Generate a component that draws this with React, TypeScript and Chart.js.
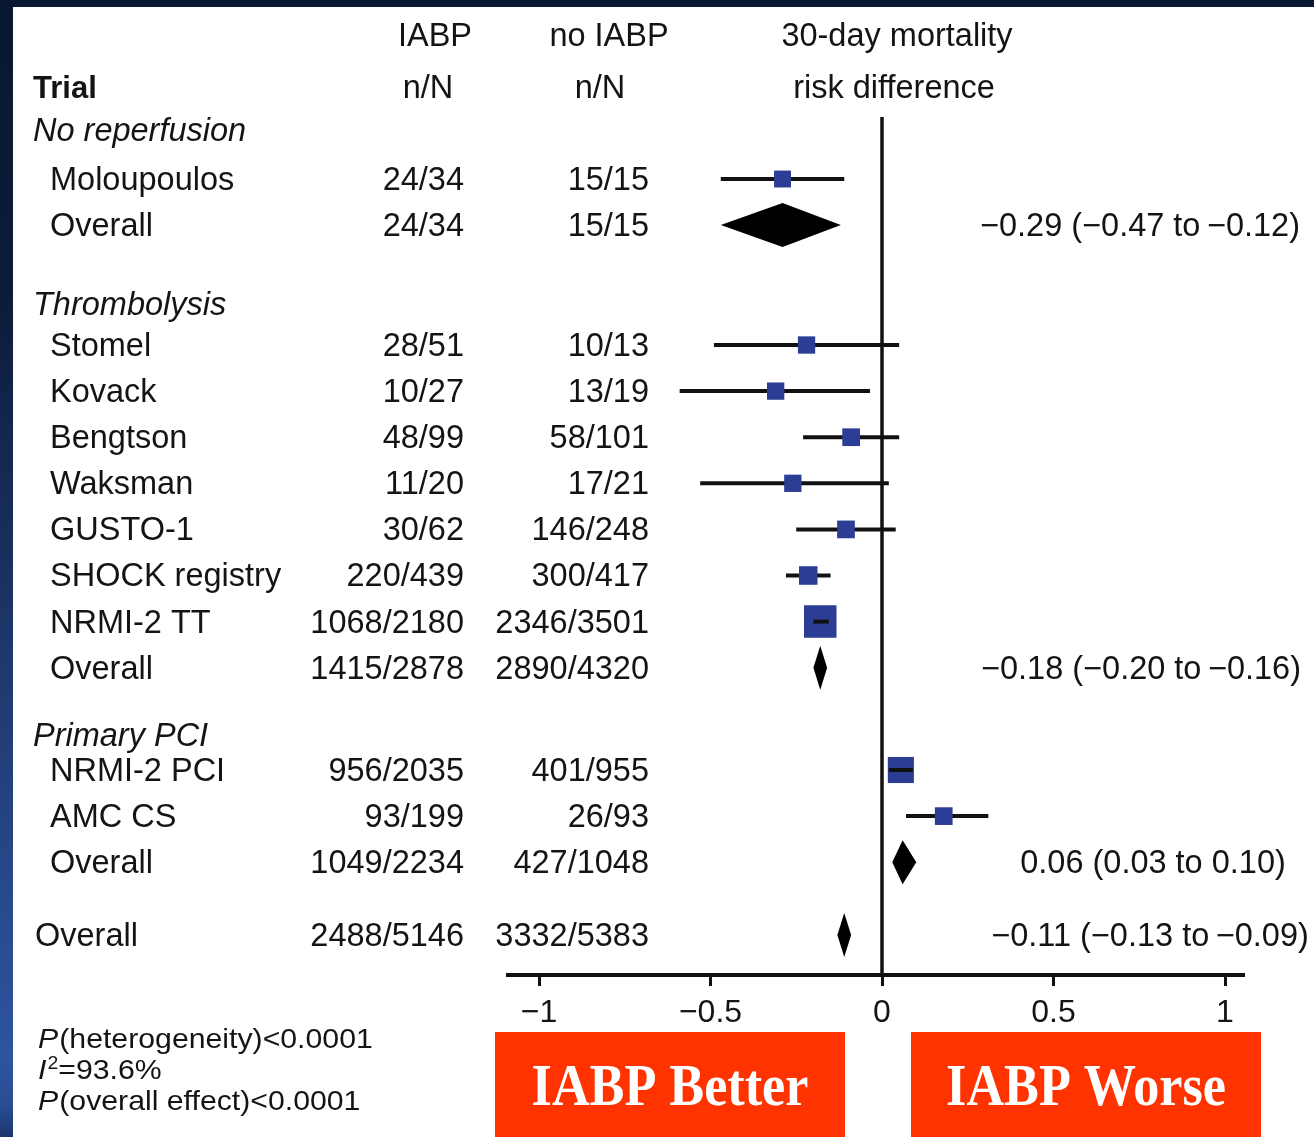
import React, { useEffect, useRef } from 'react';
import { Chart, registerables } from 'chart.js';

Chart.register(...registerables);

// ---------------- data ----------------
const groupNames = ['No reperfusion', 'Thrombolysis', 'Primary PCI'];
const trialNames = ['Moloupoulos', 'Stomel', 'Kovack', 'Bengtson', 'Waksman', 'GUSTO-1', 'SHOCK registry', 'NRMI-2 TT', 'NRMI-2 PCI', 'AMC CS'];
const trialGroup = [0, 1, 1, 1, 1, 1, 1, 1, 2, 2];
const trialIabp = ['24/34', '28/51', '10/27', '48/99', '11/20', '30/62', '220/439', '1068/2180', '956/2035', '93/199'];
const trialNoIabp = ['15/15', '10/13', '13/19', '58/101', '17/21', '146/248', '300/417', '2346/3501', '401/955', '26/93'];
const trialRD = [-0.29, -0.22, -0.31, -0.09, -0.26, -0.105, -0.215, -0.18, 0.055, 0.18];
const trialLow = [-0.47, -0.49, -0.59, -0.23, -0.53, -0.25, -0.28, -0.2, 0.02, 0.07];
const trialHigh = [-0.11, 0.05, -0.035, 0.05, 0.02, 0.04, -0.15, -0.155, 0.09, 0.31];
const trialWeight = [1, 2, 2, 3, 2, 3, 5, 40, 24, 3];

const groupIabp = ['24/34', '1415/2878', '1049/2234'];
const groupNoIabp = ['15/15', '2890/4320', '427/1048'];
const groupRD = [-0.29, -0.18, 0.06];
const groupLow = [-0.47, -0.2, 0.03];
const groupHigh = [-0.12, -0.16, 0.1];

const totalLabel = 'Overall';
const totalIabp = '2488/5146';
const totalNoIabp = '3332/5383';
const totalRD = -0.11;
const totalLow = -0.13;
const totalHigh = -0.09;

const xTicks = [-1, -0.5, 0, 0.5, 1];
const pHeterogeneity = '(heterogeneity)<0.0001';
const iSquared = '=93.6%';
const pOverall = '(overall effect)<0.0001';
const betterLabel = 'IABP Better';
const worseLabel = 'IABP Worse';

// ---------------- layout (row slots, in row units) ----------------
const HEADER_GAPS = [1.063, 0.89, 0.759];
const GROUP_GAPS = [1.711, 1.46];
const TOTAL_GAP = 1.579;
const headerPos: number[] = [];
const trialPos: number[] = [];
const groupPos: number[] = [];
let cur = 0;
groupNames.forEach((_, gi) => {
  headerPos[gi] = cur;
  cur += HEADER_GAPS[gi];
  trialNames.forEach((_, ti) => {
    if (trialGroup[ti] === gi) {
      trialPos[ti] = cur;
      cur += 1;
    }
  });
  groupPos[gi] = cur;
  if (gi < groupNames.length - 1) cur += GROUP_GAPS[gi];
});
const totalPos = cur + TOTAL_GAP;

const W = 1314;
const H = 1137;
const AREA_L = 508, AREA_R = 1243, AREA_T = 117, AREA_B = 975;
const ZERO_PX = 882, UNIT_PX = 343;
const ROW0_PX = 130, ROW_PX = 46.1;
const xMin = (AREA_L - ZERO_PX) / UNIT_PX;
const xMax = (AREA_R - ZERO_PX) / UNIT_PX;
const yMin = (AREA_T - ROW0_PX) / ROW_PX;
const yMax = (AREA_B - ROW0_PX) / ROW_PX;

const FONT = '"Liberation Sans", Arial, Helvetica, sans-serif';
const TEXT = '#141414';
const SQUARE = '#2b3d95';
const LINE = '#111111';
const TEXT_DY = 2;

const squareSide = (w: number) => 16.5 + 0.4 * w;

const fmt = (v: number) => (v < 0 ? '\u2212' : '') + Math.abs(v).toFixed(2);
const fmtTick = (v: number) => (v < 0 ? '\u2212' : '') + String(Math.abs(v));
const ciText = (e: number, lo: number, hi: number) =>
  `${fmt(e)} (${fmt(lo)} to${hi < 0 ? '\u2009' : ' '}${fmt(hi)})`;

export default function App() {
  const ref = useRef<HTMLCanvasElement | null>(null);

  useEffect(() => {
    const canvas = ref.current;
    if (!canvas) return;

    const ciDatasets = trialNames.map((_, i) => {
      const spanPx = (trialHigh[i] - trialLow[i]) * UNIT_PX;
      const inside = spanPx < squareSide(trialWeight[i]);
      return {
        type: 'line' as const,
        data: [
          { x: trialLow[i], y: trialPos[i] },
          { x: trialHigh[i], y: trialPos[i] },
        ],
        borderColor: LINE,
        borderWidth: 4,
        pointRadius: 0,
        fill: false,
        order: inside ? -1 : 1,
      };
    });

    const squares = {
      type: 'scatter' as const,
      data: trialNames.map((_, i) => ({ x: trialRD[i], y: trialPos[i] })),
      pointStyle: 'rect',
      pointRadius: (c: any) => squareSide(trialWeight[c.dataIndex]) / Math.SQRT2,
      pointBorderWidth: 0,
      pointBackgroundColor: SQUARE,
      backgroundColor: SQUARE,
      borderWidth: 0,
      order: 0,
    };

    const framePlugin = {
      id: 'frame',
      beforeDraw(chart: any) {
        const ctx = chart.ctx;
        ctx.save();
        ctx.fillStyle = '#0b1833';
        ctx.fillRect(0, 0, W, 7);
        const g = ctx.createLinearGradient(0, 0, 0, H);
        g.addColorStop(0, '#0a1730');
        g.addColorStop(0.26, '#0c1b3a');
        g.addColorStop(0.6, '#1f3a70');
        g.addColorStop(0.93, '#2e54a0');
        g.addColorStop(0.97, '#2a4e95');
        g.addColorStop(1, '#1c386c');
        ctx.fillStyle = g;
        ctx.fillRect(0, 0, 13, H);
        ctx.fillStyle = '#ffffff';
        ctx.fillRect(13, 7, W - 13, H - 7);
        ctx.restore();
      },
      beforeDatasetsDraw(chart: any) {
        const ctx = chart.ctx;
        const xs = chart.scales.x;
        const x0 = xs.getPixelForValue(0);
        ctx.save();
        ctx.strokeStyle = LINE;
        ctx.lineWidth = 3.5;
        ctx.beginPath();
        ctx.moveTo(x0, chart.chartArea.top);
        ctx.lineTo(x0, chart.chartArea.bottom + 2);
        ctx.stroke();
        ctx.restore();
      },
      afterDatasetsDraw(chart: any) {
        const ctx = chart.ctx;
        const xs = chart.scales.x;
        const ys = chart.scales.y;
        const diamond = (e: number, lo: number, hi: number, pos: number) => {
          const y = ys.getPixelForValue(pos);
          const half = 22;
          ctx.beginPath();
          ctx.moveTo(xs.getPixelForValue(lo), y);
          ctx.lineTo(xs.getPixelForValue(e), y - half);
          ctx.lineTo(xs.getPixelForValue(hi), y);
          ctx.lineTo(xs.getPixelForValue(e), y + half);
          ctx.closePath();
          ctx.fill();
        };
        ctx.save();
        ctx.fillStyle = '#000000';
        groupNames.forEach((_, gi) => diamond(groupRD[gi], groupLow[gi], groupHigh[gi], groupPos[gi]));
        diamond(totalRD, totalLow, totalHigh, totalPos);
        ctx.restore();
      },
      afterDraw(chart: any) {
        const ctx = chart.ctx;
        const ys = chart.scales.y;
        const yp = (p: number) => ys.getPixelForValue(p) + TEXT_DY;
        const txt = (s: string, x: number, y: number, align: CanvasTextAlign, font: string, color = TEXT) => {
          ctx.font = font;
          ctx.fillStyle = color;
          ctx.textAlign = align;
          ctx.textBaseline = 'middle';
          ctx.fillText(s, x, y);
        };
        const F = `32.5px ${FONT}`;
        const FI = `italic 32.5px ${FONT}`;
        const FB = `bold 31px ${FONT}`;
        const COL_NAME = 50, COL_HEAD = 33, COL_IABP = 464, COL_NO = 649;
        const RD_CENTERS = [1140, 1141, 1153];
        const RD_TOTAL_CENTER = 1150;
        ctx.save();
        // headers
        txt('IABP', 435, 35 + TEXT_DY, 'center', F);
        txt('no IABP', 609, 35 + TEXT_DY, 'center', F);
        txt('30-day mortality', 897, 35 + TEXT_DY, 'center', F);
        txt('Trial', COL_HEAD, 87 + TEXT_DY, 'left', FB);
        txt('n/N', 428, 87 + TEXT_DY, 'center', F);
        txt('n/N', 600, 87 + TEXT_DY, 'center', F);
        txt('risk difference', 894, 87 + TEXT_DY, 'center', F);
        // groups
        groupNames.forEach((gname, gi) => {
          txt(gname, COL_HEAD, yp(headerPos[gi]), 'left', FI);
          trialNames.forEach((t, ti) => {
            if (trialGroup[ti] !== gi) return;
            const y = yp(trialPos[ti]);
            txt(t, COL_NAME, y, 'left', F);
            txt(trialIabp[ti], COL_IABP, y, 'right', F);
            txt(trialNoIabp[ti], COL_NO, y, 'right', F);
          });
          const y = yp(groupPos[gi]);
          txt('Overall', COL_NAME, y, 'left', F);
          txt(groupIabp[gi], COL_IABP, y, 'right', F);
          txt(groupNoIabp[gi], COL_NO, y, 'right', F);
          txt(ciText(groupRD[gi], groupLow[gi], groupHigh[gi]), RD_CENTERS[gi], y, 'center', F);
        });
        const yt = yp(totalPos);
        txt(totalLabel, 35, yt, 'left', F);
        txt(totalIabp, COL_IABP, yt, 'right', F);
        txt(totalNoIabp, COL_NO, yt, 'right', F);
        txt(ciText(totalRD, totalLow, totalHigh), RD_TOTAL_CENTER, yt, 'center', F);

        // statistics block (slightly wide type)
        ctx.save();
        ctx.translate(38, 0);
        ctx.scale(1.08, 1);
        const SF = `28px ${FONT}`;
        const SFI = `italic 28px ${FONT}`;
        const line = (prefix: string, rest: string, y: number) => {
          ctx.font = SFI;
          const w = ctx.measureText(prefix).width;
          txt(prefix, 0, y, 'left', SFI);
          txt(rest, w + 1, y, 'left', SF);
        };
        line('P', pHeterogeneity, 1040);
        ctx.font = SFI;
        const wI = ctx.measureText('I').width;
        txt('I', 0, 1071, 'left', SFI);
        txt('2', wI + 1, 1064, 'left', `18px ${FONT}`);
        ctx.font = `18px ${FONT}`;
        const w2 = ctx.measureText('2').width;
        txt(iSquared, wI + w2 + 1, 1071, 'left', SF);
        line('P', pOverall, 1102);
        ctx.restore();

        // red labels
        const box = (label: string, x0: number, x1: number) => {
          ctx.fillStyle = '#ff3300';
          ctx.fillRect(x0, 1032, x1 - x0, H - 1032);
          ctx.save();
          const cx = (x0 + x1) / 2;
          ctx.translate(cx, 1089);
          ctx.scale(0.87, 1);
          ctx.font = `bold 60px "Liberation Serif", "Times New Roman", serif`;
          ctx.fillStyle = '#ffffff';
          ctx.textAlign = 'center';
          ctx.textBaseline = 'middle';
          ctx.fillText(label, 0, 0);
          ctx.restore();
        };
        box(betterLabel, 495, 845);
        box(worseLabel, 911, 1261);
        ctx.restore();
      },
    };

    const chart = new Chart(canvas, {
      type: 'scatter',
      data: { datasets: [...ciDatasets, squares] as any },
      options: {
        animation: false,
        responsive: false,
        devicePixelRatio: 1,
        events: [],
        layout: { padding: { left: AREA_L, right: W - AREA_R, top: AREA_T, bottom: 0 } },
        plugins: { legend: { display: false }, tooltip: { enabled: false } },
        scales: {
          x: {
            type: 'linear',
            min: xMin,
            max: xMax,
            afterBuildTicks: (axis: any) => {
              axis.ticks = xTicks.map((v) => ({ value: v }));
            },
            afterFit: (axis: any) => {
              axis.height = H - AREA_B;
            },
            border: { display: true, color: LINE, width: 4 },
            grid: {
              display: true,
              drawOnChartArea: false,
              drawTicks: true,
              tickLength: 11,
              tickWidth: 3,
              tickColor: LINE,
              lineWidth: 3,
              color: LINE,
            },
            ticks: {
              color: TEXT,
              font: { family: FONT, size: 32 },
              padding: 8,
              autoSkip: false,
              maxRotation: 0,
              callback: (v: any) => fmtTick(Number(v)),
            },
          },
          y: {
            type: 'linear',
            display: false,
            reverse: true,
            min: yMin,
            max: yMax,
          },
        },
      } as any,
      plugins: [framePlugin],
    });
    return () => chart.destroy();
  }, []);

  return (
    <div style={{ position: 'absolute', left: 0, top: 0, width: W, height: H }}>
      <canvas ref={ref} width={W} height={H} style={{ display: 'block', width: W, height: H }} />
    </div>
  );
}
